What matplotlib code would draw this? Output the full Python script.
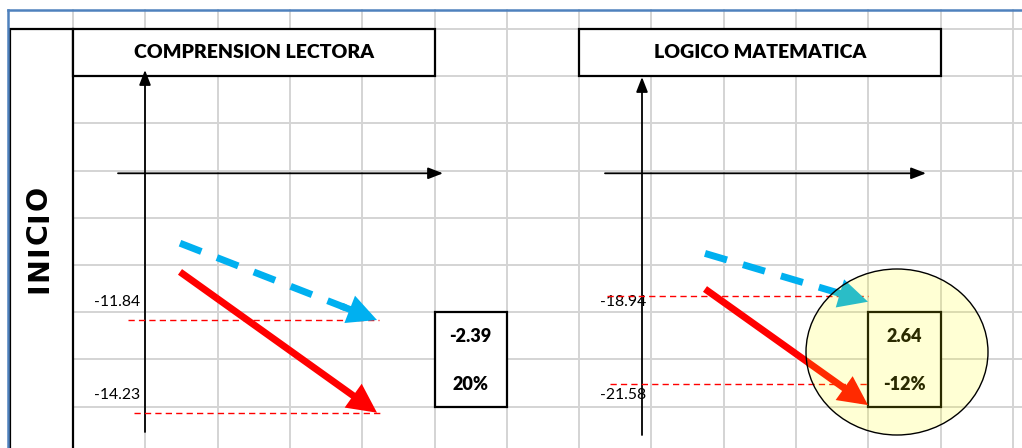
import numpy as np
import matplotlib.pyplot as plt
from matplotlib.patches import Rectangle, Ellipse

# data
subjects = ['COMPRENSION LECTORA', 'LOGICO MATEMATICA']
row_label = 'INICIO'
upper_values = [-11.84, -18.94]
lower_values = [-14.23, -21.58]
diffs = [-2.39, 2.64]
pcts = [20, -12]
# arrow ends (value scale of each panel, estimated)
blue_start = [-9.86, -17.68]
blue_end = [-11.84, -19.12]
red_start = [-10.60, -18.74]
red_end = [-14.23, -22.20]

W, H = 1022, 448
BLUE = '#00B0F0'
RED = '#FF0000'
GRID = '#D4D4D4'
plt.rcParams['font.family'] = ['Lato', 'DejaVu Sans']

fig = plt.figure(figsize=(W / 100, H / 100), dpi=100)
fig.patch.set_facecolor('white')
base = fig.add_axes([0, 0, 1, 1])
base.set_xlim(0, W)
base.set_ylim(H, 0)
base.axis('off')

# sheet grid
cols = 73 + 72.3 * np.arange(14)
rows = 29 + 47.2 * np.arange(9)
for x in cols:
    base.plot([x, x], [10, H], color=GRID, lw=1.4, zorder=1)
for y in rows:
    base.plot([73, W], [y, y], color=GRID, lw=1.4, zorder=1)

# sheet border (blue)
base.plot([8, W], [10, 10], color='#4F81BD', lw=1.8, zorder=5)
base.plot([8, 8], [10, H], color='#4F81BD', lw=1.8, zorder=5)


def cell(x0, y0, x1, y1):
    base.add_patch(Rectangle((x0, y0), x1 - x0, y1 - y0, facecolor='white',
                             edgecolor='black', lw=1.6, zorder=3))


# merged cells
cell(10, 29, 73, H + 5)
cell(cols[0], rows[0], cols[5], rows[1])
cell(cols[7], rows[0], cols[12], rows[1])
cell(cols[5], rows[6], cols[6], rows[8])
cell(cols[11], rows[6], cols[12], rows[8])

# vertical row label, letters spread over the cell like the sheet does
renderer = fig.canvas.get_renderer()
letters = [base.text(39, 0, c, rotation=90, ha='center', va='bottom',
                     fontsize=20.5, fontweight='heavy', family='DejaVu Sans',
                     zorder=6) for c in row_label]
sizes = [t.get_window_extent(renderer).height for t in letters]
lab_bottom, lab_len = 293, 107
gap = (lab_len - sum(sizes)) / (len(sizes) - 1)
pos = lab_bottom
for t, s in zip(letters, sizes):
    t.set_y(pos)
    pos -= s + gap

titles_x = [(cols[0] + cols[5]) / 2, (cols[7] + cols[12]) / 2]
box_x = [(cols[5] + cols[6]) / 2, (cols[11] + cols[12]) / 2]
vaxis_x = [145, 642]
vaxis_y = [(432, 70), (435, 77)]
haxis_x = [(118, 443), (605, 926)]
label_right = [140, 646]
# panel rectangles in pixels: x0, x1 of arrows
panel_px = [(180, 377), (705, 868)]
hline_ext = [[(-0.264, 1.01), (-0.234, 1.036)], [(-0.603, 1.0), (-0.583, 1.0)]]
line_px = [(320, 412.7), (295.7, 384.3)]

axis_arrow = dict(arrowstyle='-|>,head_length=0.9,head_width=0.35',
                  color='black', lw=1.3, shrinkA=0, shrinkB=0,
                  mutation_scale=10)
head = '-|>,head_length=1.3,head_width=0.65'

for i in range(2):
    base.text(titles_x[i], (rows[0] + rows[1]) / 2, subjects[i], ha='center',
              va='center', fontsize=14, fontweight='heavy', zorder=6)
    # axes arrows
    base.annotate('', xy=(vaxis_x[i], vaxis_y[i][1]),
                  xytext=(vaxis_x[i], vaxis_y[i][0]),
                  arrowprops=axis_arrow, zorder=7)
    base.annotate('', xy=(haxis_x[i][1], 173.3), xytext=(haxis_x[i][0], 173.3),
                  arrowprops=axis_arrow, zorder=7)
    # value labels
    base.text(label_right[i], 302, f'{upper_values[i]:.2f}', ha='right',
              va='center', fontsize=11.3, zorder=6)
    base.text(label_right[i], 395, f'{lower_values[i]:.2f}', ha='right',
              va='center', fontsize=11.3, zorder=6)
    # difference box
    base.text(box_x[i], 337, f'{diffs[i]:.2f}', ha='center', va='center',
              fontsize=13, fontweight='heavy', zorder=6)
    base.text(box_x[i], 384, f'{pcts[i]}%', ha='center', va='center',
              fontsize=13, fontweight='heavy', zorder=6)

    # panel axes in value scale
    x0, x1 = panel_px[i]
    ytop, ybot = line_px[i]
    ax = fig.add_axes([x0 / W, 1 - ybot / H, (x1 - x0) / W, (ybot - ytop) / H])
    ax.set_xlim(0, 1)
    ax.set_ylim(lower_values[i], upper_values[i])
    ax.axis('off')
    ax.patch.set_alpha(0)

    ax.hlines(upper_values[i], *hline_ext[i][0], colors=RED, lw=1.0,
              linestyles=(0, (4.5, 3)), clip_on=False)
    ax.hlines(lower_values[i], *hline_ext[i][1], colors=RED, lw=1.0,
              linestyles=(0, (4.5, 3)), clip_on=False)

    # red arrow
    ax.annotate('', xy=(1, red_end[i]), xytext=(0, red_start[i]),
                arrowprops=dict(arrowstyle=head, color=RED, lw=5,
                                shrinkA=0, shrinkB=0, mutation_scale=10,
                                joinstyle='miter', capstyle='butt'),
                annotation_clip=False)
    # blue dashed arrow
    k = 0.84
    bx = [0, k]
    by = [blue_start[i], blue_start[i] + k * (blue_end[i] - blue_start[i])]
    ax.plot(bx, by, color=BLUE, lw=5, dashes=(3.3, 2.4),
            dash_capstyle='butt', clip_on=False)
    ax.annotate('', xy=(1, blue_end[i]),
                xytext=(k - 0.02, by[1] - 0.02 * (blue_end[i] - blue_start[i])),
                arrowprops=dict(arrowstyle=head, color=BLUE, lw=5,
                                shrinkA=0, shrinkB=0, mutation_scale=10,
                                joinstyle='miter', capstyle='butt'),
                annotation_clip=False)

    if i == 1:
        ax.add_patch(Ellipse((897, 352), 182, 166, transform=base.transData,
                             facecolor=(1, 1, 0, 0.17), edgecolor='black',
                             lw=1.0, clip_on=False, zorder=10))

fig.savefig('out.png', dpi=100, facecolor='white')
